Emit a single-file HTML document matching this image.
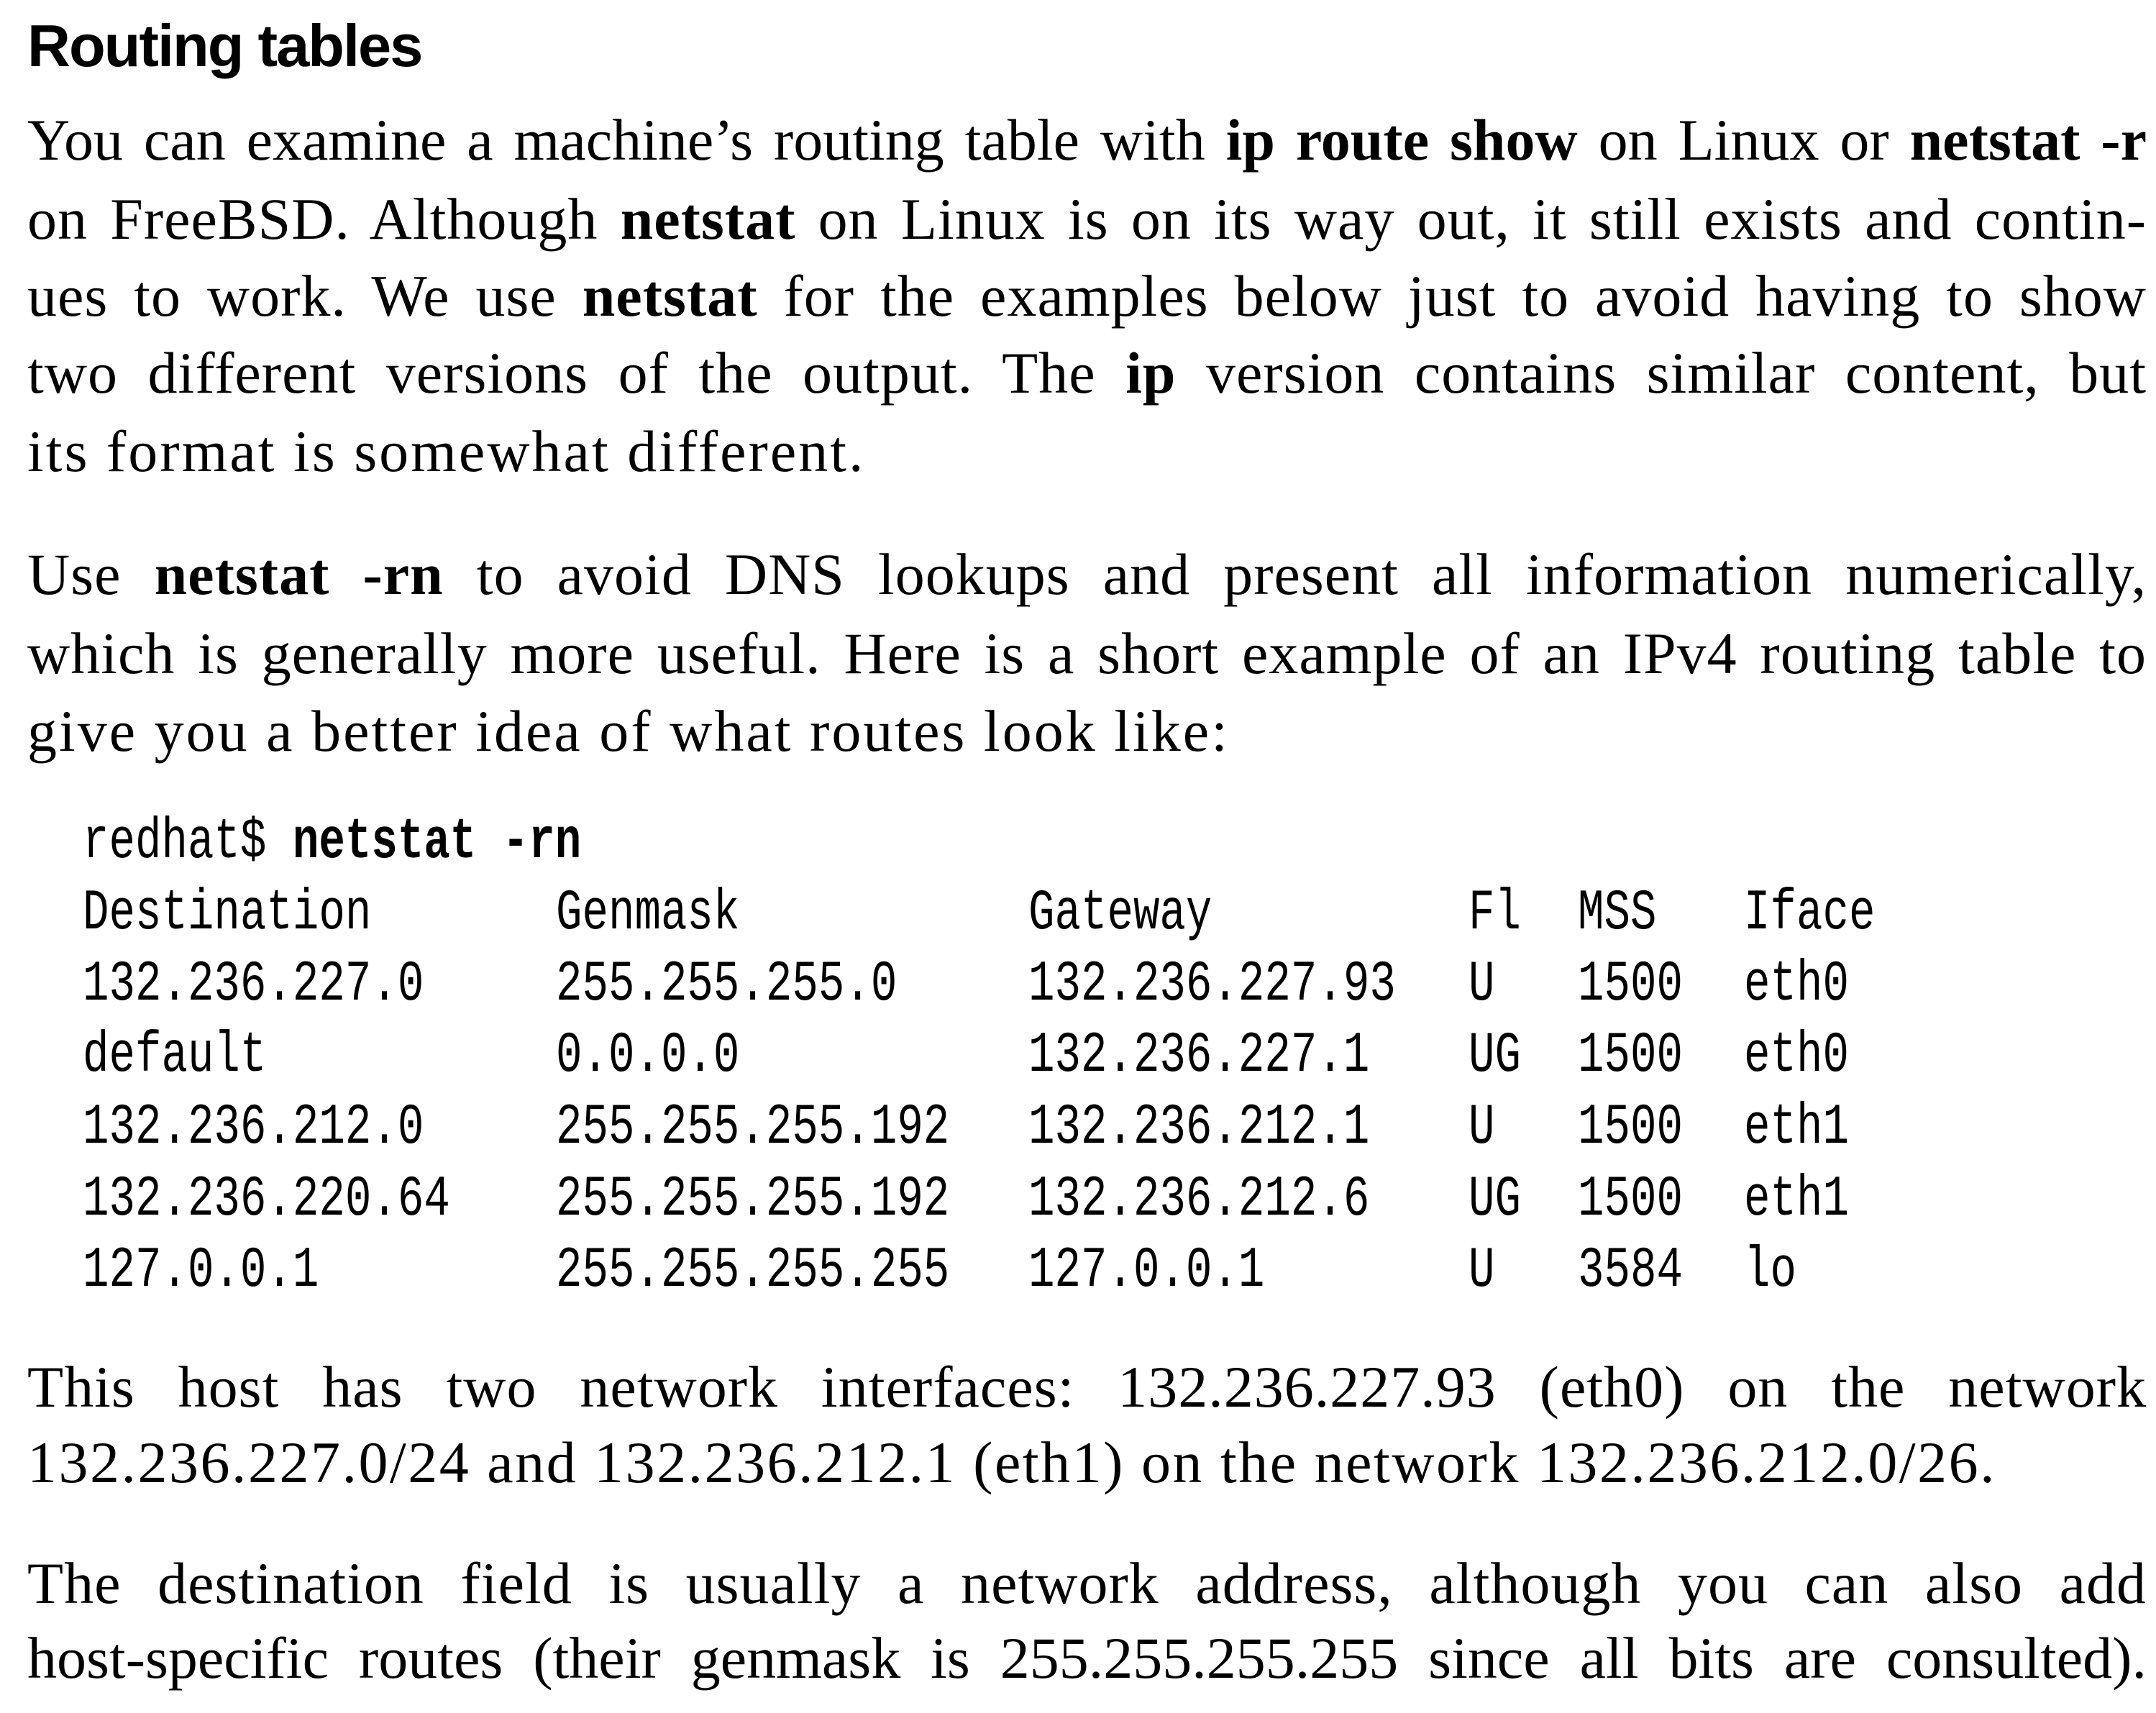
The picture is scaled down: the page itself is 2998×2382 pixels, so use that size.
<!DOCTYPE html>
<html><head><meta charset="utf-8">
<style>
html,body{margin:0;padding:0;background:#fff;}
body{width:2998px;height:2382px;position:relative;overflow:hidden;color:#000;}
.l{position:absolute;left:38px;width:2947px;white-space:nowrap;font-family:"Liberation Serif",serif;font-size:82px;line-height:82px;letter-spacing:1px;text-align:justify;text-align-last:justify;}
.t{letter-spacing:0;}
.last{text-align-last:left;letter-spacing:3px;}
.h{position:absolute;left:38px;font-family:"Liberation Sans",sans-serif;font-weight:bold;font-size:83px;line-height:83px;letter-spacing:-2px;}
.c{position:absolute;font-family:"Liberation Mono",monospace;font-size:80px;line-height:80px;white-space:nowrap;transform:scaleX(0.76);transform-origin:left top;}
b{font-weight:bold;}
</style></head><body>
<div class="h" style="top:22px">Routing tables</div>

<div>
<div class="l t" style="top:154px">You can examine a machine’s routing table with <b>ip route show</b> on Linux or <b>netstat -r</b></div>
<div class="l" style="top:264px">on FreeBSD. Although <b>netstat</b> on Linux is on its way out, it still exists and contin-</div>
<div class="l" style="top:371px">ues to work. We use <b>netstat</b> for the examples below just to avoid having to show</div>
<div class="l" style="top:478px">two different versions of the output. The <b>ip</b> version contains similar content, but</div>
<div class="l last" style="top:587px">its format is somewhat different.</div>
</div>

<div>
<div class="l" style="top:758px">Use <b>netstat -rn</b> to avoid DNS lookups and present all information numerically,</div>
<div class="l" style="top:868px">which is generally more useful. Here is a short example of an IPv4 routing table to</div>
<div class="l last" style="top:976px">give you a better idea of what routes look like:</div>
</div>

<div>
<div class="c" style="top:1132px;left:115px">redhat$ <b>netstat -rn</b></div>
<div>
<div class="c" style="top:1231px;left:115px">Destination</div>
<div class="c" style="top:1231px;left:773px">Genmask</div>
<div class="c" style="top:1231px;left:1430px">Gateway</div>
<div class="c" style="top:1231px;left:2042px">Fl</div>
<div class="c" style="top:1231px;left:2194px">MSS</div>
<div class="c" style="top:1231px;left:2425px">Iface</div>
</div>
<div>
<div class="c" style="top:1330px;left:115px">132.236.227.0</div>
<div class="c" style="top:1330px;left:773px">255.255.255.0</div>
<div class="c" style="top:1330px;left:1430px">132.236.227.93</div>
<div class="c" style="top:1330px;left:2042px">U</div>
<div class="c" style="top:1330px;left:2194px">1500</div>
<div class="c" style="top:1330px;left:2425px">eth0</div>
</div>
<div>
<div class="c" style="top:1429px;left:115px">default</div>
<div class="c" style="top:1429px;left:773px">0.0.0.0</div>
<div class="c" style="top:1429px;left:1430px">132.236.227.1</div>
<div class="c" style="top:1429px;left:2042px">UG</div>
<div class="c" style="top:1429px;left:2194px">1500</div>
<div class="c" style="top:1429px;left:2425px">eth0</div>
</div>
<div>
<div class="c" style="top:1529px;left:115px">132.236.212.0</div>
<div class="c" style="top:1529px;left:773px">255.255.255.192</div>
<div class="c" style="top:1529px;left:1430px">132.236.212.1</div>
<div class="c" style="top:1529px;left:2042px">U</div>
<div class="c" style="top:1529px;left:2194px">1500</div>
<div class="c" style="top:1529px;left:2425px">eth1</div>
</div>
<div>
<div class="c" style="top:1629px;left:115px">132.236.220.64</div>
<div class="c" style="top:1629px;left:773px">255.255.255.192</div>
<div class="c" style="top:1629px;left:1430px">132.236.212.6</div>
<div class="c" style="top:1629px;left:2042px">UG</div>
<div class="c" style="top:1629px;left:2194px">1500</div>
<div class="c" style="top:1629px;left:2425px">eth1</div>
</div>
<div>
<div class="c" style="top:1728px;left:115px">127.0.0.1</div>
<div class="c" style="top:1728px;left:773px">255.255.255.255</div>
<div class="c" style="top:1728px;left:1430px">127.0.0.1</div>
<div class="c" style="top:1728px;left:2042px">U</div>
<div class="c" style="top:1728px;left:2194px">3584</div>
<div class="c" style="top:1728px;left:2425px">lo</div>
</div>
</div>

<div>
<div class="l" style="top:1888px">This host has two network interfaces: 132.236.227.93 (eth0) on the network</div>
<div class="l last" style="top:1993px;letter-spacing:2.5px">132.236.227.0/24 and 132.236.212.1 (eth1) on the network 132.236.212.0/26.</div>
</div>

<div>
<div class="l" style="top:2161px">The destination field is usually a network address, although you can also add</div>
<div class="l t" style="top:2265px">host-specific routes (their genmask is 255.255.255.255 since all bits are consulted).</div>
</div>
</body></html>
